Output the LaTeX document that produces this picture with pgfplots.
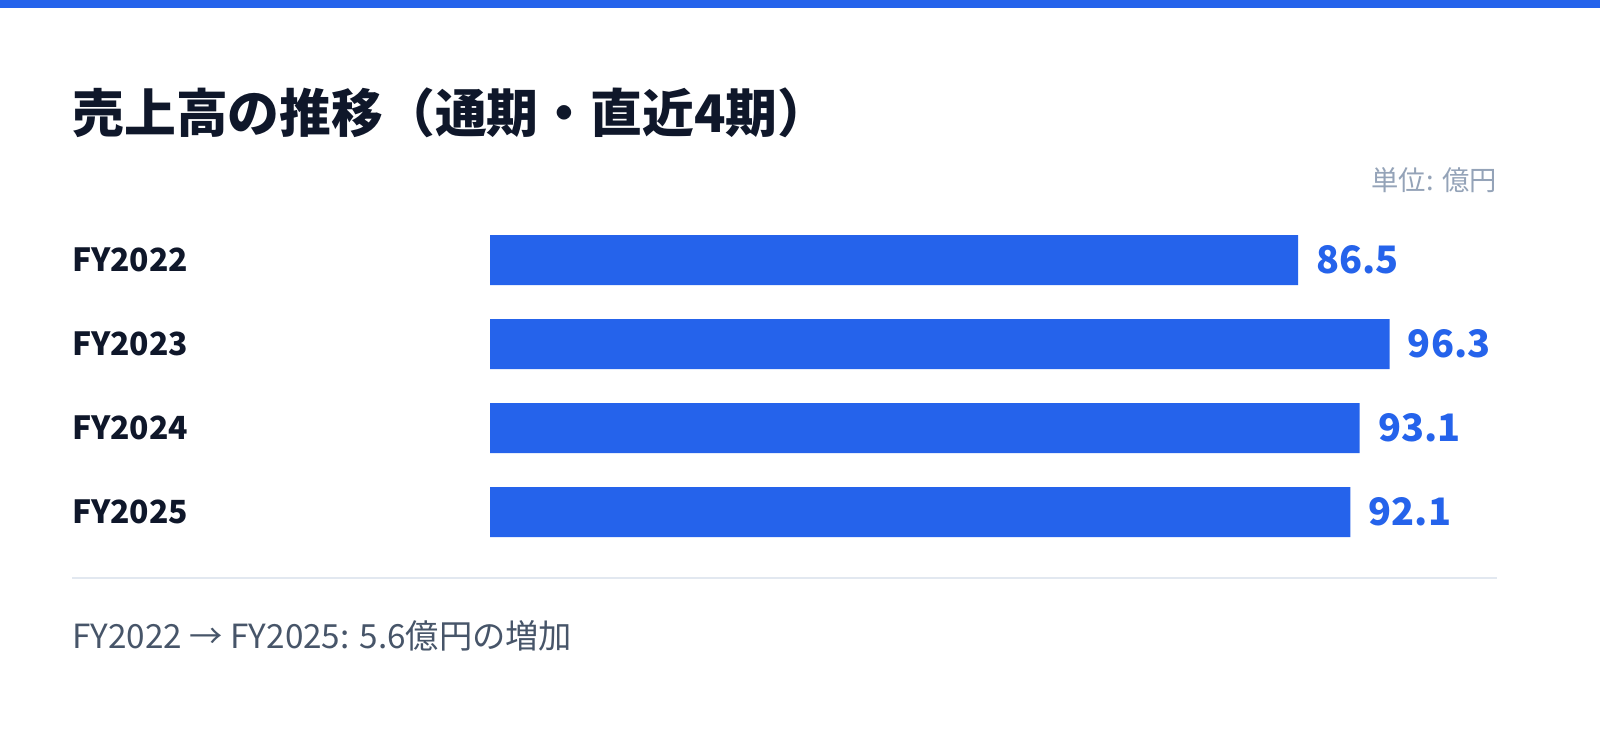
\documentclass[border=0pt]{standalone}
\usepackage{fontspec}
\setmainfont{Noto Sans CJK JP}
\usepackage{pgfplots}
\pgfplotsset{compat=1.18}
\definecolor{barblue}{HTML}{2563EB}
\definecolor{titlecol}{HTML}{0F172A}
\definecolor{unitcol}{HTML}{94A3B8}
\definecolor{footcol}{HTML}{475569}
\definecolor{sepcol}{HTML}{E2E8F0}
\begin{document}
\begin{tikzpicture}[x=0.5bp,y=-0.5bp]
\fill[white] (0,0) rectangle (1600,733);
\fill[barblue] (0,0) rectangle (1600,8);
\node[anchor=west, inner sep=0, text=titlecol, font=\fontsize{26}{26}\selectfont\bfseries] at (72,113) {売上高の推移（通期・直近4期）};
\node[anchor=east, inner sep=0, text=unitcol, font=\fontsize{13.7}{13.7}\selectfont] at (1497,180) {単位: 億円};
\draw[sepcol, line width=1bp] (72,578) -- (1497,578);
\node[anchor=west, inner sep=0, text=footcol, font=\fontsize{16.7}{16.7}\selectfont] at (72,636) {FY2022 → FY2025: 5.6億円の増加};
\begin{axis}[
  at={(245bp,-277bp)}, anchor=south west,
  scale only axis, width=467.05bp, height=168bp,
  xmin=0, xmax=100, ymin=-0.5, ymax=3.5, y dir=reverse,
  axis line style={draw=none},
  major tick length=0pt,
  xtick=\empty,
  ytick={0,1,2,3},
  yticklabels={FY2022,FY2023,FY2024,FY2025},
  yticklabel style={anchor=west, inner sep=0pt, xshift=-209bp, text=titlecol, font=\fontsize{16}{16}\selectfont\bfseries},
  xbar, bar width=25bp, bar shift=0pt,
  point meta=explicit symbolic,
  nodes near coords,
  every node near coord/.append style={anchor=west, inner sep=0pt, xshift=9bp, text=barblue, font=\fontsize{19}{19}\selectfont\bfseries},
  clip=false,
]
\addplot[fill=barblue, draw=none] coordinates {
  (86.5,0) [86.5]
  (96.3,1) [96.3]
  (93.1,2) [93.1]
  (92.1,3) [92.1]
};
\end{axis}
\end{tikzpicture}
\end{document}
